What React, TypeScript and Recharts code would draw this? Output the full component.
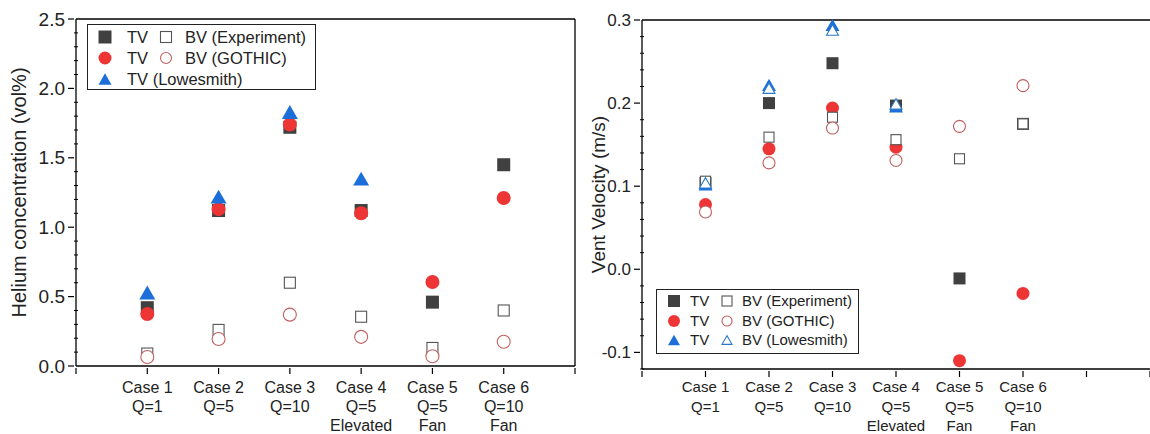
import React from 'react';
import { ScatterChart, Scatter, XAxis, YAxis, ReferenceLine, Legend } from 'recharts';

const cases = [1, 2, 3, 4, 5, 6];
const caseLabels = [
  ['Case 1', 'Q=1'],
  ['Case 2', 'Q=5'],
  ['Case 3', 'Q=10'],
  ['Case 4', 'Q=5', 'Elevated'],
  ['Case 5', 'Q=5', 'Fan'],
  ['Case 6', 'Q=10', 'Fan'],
];

const heliumTvExp = [0.42, 1.12, 1.72, 1.12, 0.46, 1.45];
const heliumBvExp = [0.09, 0.26, 0.6, 0.355, 0.13, 0.4];
const heliumTvGothic = [0.375, 1.13, 1.74, 1.1, 0.605, 1.21];
const heliumBvGothic = [0.065, 0.195, 0.37, 0.21, 0.07, 0.175];
const heliumTvLowesmith = [0.53, 1.22, 1.83, 1.35, null, null];

const velocityTvExp = [0.104, 0.2, 0.248, 0.197, -0.011, 0.175];
const velocityBvExp = [0.106, 0.159, 0.183, 0.156, 0.133, 0.175];
const velocityTvGothic = [0.078, 0.145, 0.194, 0.147, -0.11, -0.029];
const velocityBvGothic = [0.069, 0.128, 0.17, 0.131, 0.172, 0.221];
const velocityTvLowesmith = [0.102, 0.222, 0.294, 0.196, null, null];
const velocityBvLowesmith = [0.104, 0.218, 0.288, 0.199, null, null];

const heliumTicks = [0, 0.1, 0.2, 0.3, 0.4, 0.5, 0.6, 0.7, 0.8, 0.9, 1, 1.1, 1.2, 1.3, 1.4, 1.5, 1.6, 1.7, 1.8, 1.9, 2, 2.1, 2.2, 2.3, 2.4, 2.5];
const velocityTicks = [-0.12, -0.1, -0.08, -0.06, -0.04, -0.02, 0, 0.02, 0.04, 0.06, 0.08, 0.1, 0.12, 0.14, 0.16, 0.18, 0.2, 0.22, 0.24, 0.26, 0.28, 0.3];
const heliumXTicks = [0, 1, 2, 3, 4, 5, 6, 7];
const velocityXTicks = [0, 1, 2, 3, 4, 5, 6, 7, 8];

const FONT = 'Arial, "Liberation Sans", sans-serif';
const DARK = '#404040';
const RED = '#ee3535';
const BLUE = '#1c6fd8';
const OPEN_SQ = '#555555';
const OPEN_CI = '#c26060';
const OPEN_TRI = '#2b7ac9';

const toPoints = (values: (number | null)[]) =>
  cases
    .map((x, i) => ({ x, y: values[i] }))
    .filter((p) => p.y !== null);

type Kind = 'square' | 'circle' | 'triangle';

const marker = (kind: Kind, cx: number, cy: number, size: number, color: string, open: boolean) => {
  const fill = open ? '#fff' : color;
  const sw = open ? 1.1 : 0;
  if (kind === 'square') {
    return <rect x={cx - size / 2} y={cy - size / 2} width={size} height={size} fill={fill} stroke={color} strokeWidth={sw} />;
  }
  if (kind === 'circle') {
    return <circle cx={cx} cy={cy} r={size / 2} fill={fill} stroke={color} strokeWidth={sw} />;
  }
  const h = size * 0.87;
  const pts = `${cx},${cy - h / 2} ${cx - size / 2},${cy + h / 2} ${cx + size / 2},${cy + h / 2}`;
  return <polygon points={pts} fill={fill} stroke={color} strokeWidth={sw} />;
};

const shape = (kind: Kind, size: number, color: string, open: boolean) => (props: any) => {
  if (props.cx == null || props.cy == null) return <g />;
  return marker(kind, props.cx, props.cy, size, color, open);
};

const makeYTick = (majorStep: number, fontSize: number) => (props: any) => {
  const { x, y, payload } = props;
  const v = payload.value;
  const major = Math.abs(v / majorStep - Math.round(v / majorStep)) < 1e-6;
  if (!major) {
    return <line x1={x} x2={x + 4} y1={y} y2={y} stroke="#000" strokeWidth={1} />;
  }
  return (
    <g>
      <line x1={x} x2={x - 6} y1={y} y2={y} stroke="#000" strokeWidth={1.2} />
      <text x={x - 9} y={y} dy={fontSize * 0.35} textAnchor="end" fontSize={fontSize} fontFamily={FONT} fill="#222">
        {v.toFixed(1)}
      </text>
    </g>
  );
};

const makeXTick = (fontSize: number, firstLine: number, lineGap: number) => (props: any) => {
  const { x, y, payload } = props;
  const idx = cases.indexOf(payload.value);
  const lines = idx >= 0 ? caseLabels[idx] : [];
  return (
    <g>
      <line x1={x} x2={x} y1={y} y2={y + 6} stroke="#000" strokeWidth={1.2} />
      {lines.map((t, i) => (
        <text
          key={i}
          x={x}
          y={y + firstLine + i * lineGap}
          dy={fontSize * 0.35}
          textAnchor="middle"
          fontSize={fontSize}
          fontFamily={FONT}
          fill="#222"
        >
          {t}
        </text>
      ))}
    </g>
  );
};

const yLabel = (text: string, fontSize: number, cx: number) => (props: any) => {
  const { viewBox } = props;
  const cy = viewBox.y + viewBox.height / 2;
  return (
    <text
      x={cx}
      y={cy}
      transform={`rotate(-90, ${cx}, ${cy})`}
      textAnchor="middle"
      dominantBaseline="central"
      fontSize={fontSize}
      fontFamily={FONT}
      fill="#222"
    >
      {text}
    </text>
  );
};

interface LegendRow {
  items: { kind: Kind; color: string; open: boolean; label: string; mx: number; tx: number }[];
}

const makeLegend = (rows: LegendRow[], w: number, h: number, rowY: number[], fontSize: number, mSize: number) => () => (
  <svg width={w} height={h} style={{ display: 'block' }}>
    <rect x={0.5} y={0.5} width={w - 1} height={h - 1} fill="#fff" stroke="#222" strokeWidth={1} />
    {rows.map((row, r) =>
      row.items.map((it, i) => (
        <g key={`${r}-${i}`}>
          {marker(it.kind, it.mx, rowY[r], it.open ? mSize - 2 : mSize, it.color, it.open)}
          <text x={it.tx} y={rowY[r]} dy={fontSize * 0.35} fontSize={fontSize} fontFamily={FONT} fill="#222">
            {it.label}
          </text>
        </g>
      ))
    )}
  </svg>
);

const heliumLegend = makeLegend(
  [
    {
      items: [
        { kind: 'square', color: DARK, open: false, label: 'TV', mx: 18, tx: 40 },
        { kind: 'square', color: OPEN_SQ, open: true, label: 'BV (Experiment)', mx: 79, tx: 98 },
      ],
    },
    {
      items: [
        { kind: 'circle', color: RED, open: false, label: 'TV', mx: 18, tx: 40 },
        { kind: 'circle', color: OPEN_CI, open: true, label: 'BV (GOTHIC)', mx: 79, tx: 98 },
      ],
    },
    { items: [{ kind: 'triangle', color: BLUE, open: false, label: 'TV (Lowesmith)', mx: 18, tx: 40 }] },
  ],
  229,
  66,
  [13, 34, 55],
  16.5,
  13
);

const velocityLegend = makeLegend(
  [
    {
      items: [
        { kind: 'square', color: DARK, open: false, label: 'TV', mx: 18, tx: 34 },
        { kind: 'square', color: OPEN_SQ, open: true, label: 'BV (Experiment)', mx: 71, tx: 86 },
      ],
    },
    {
      items: [
        { kind: 'circle', color: RED, open: false, label: 'TV', mx: 18, tx: 34 },
        { kind: 'circle', color: OPEN_CI, open: true, label: 'BV (GOTHIC)', mx: 71, tx: 86 },
      ],
    },
    {
      items: [
        { kind: 'triangle', color: BLUE, open: false, label: 'TV', mx: 18, tx: 34 },
        { kind: 'triangle', color: OPEN_TRI, open: true, label: 'BV (Lowesmith)', mx: 71, tx: 86 },
      ],
    },
  ],
  203,
  65,
  [12, 32, 51],
  15,
  12
);

const HeliumChart = () => (
  <ScatterChart width={580} height={434} margin={{ top: 19, right: 5, bottom: 38, left: 0 }}>
    <XAxis
      type="number"
      dataKey="x"
      domain={[0, 7]}
      ticks={heliumXTicks}
      interval={0}
      height={30}
      tickLine={false}
      tickSize={0}
      tick={makeXTick(16, 19, 19)}
      axisLine={{ stroke: '#000', strokeWidth: 1.3 }}
    />
    <YAxis
      type="number"
      dataKey="y"
      domain={[0, 2.5]}
      ticks={heliumTicks}
      interval={0}
      width={76}
      tickLine={false}
      tickSize={0}
      tick={makeYTick(0.5, 19)}
      axisLine={{ stroke: '#000', strokeWidth: 1.3 }}
      label={yLabel('Helium concentration (vol%)', 20, 19)}
    />
    <ReferenceLine y={2.5} stroke="#000" strokeWidth={1.3} />
    <ReferenceLine x={7} stroke="#000" strokeWidth={1.3} />
    <Legend
      layout="horizontal"
      verticalAlign="middle"
      align="center"
      content={heliumLegend}
      wrapperStyle={{ left: 87, top: 24, width: 229, height: 66 }}
    />
    <Scatter data={toPoints(heliumTvExp)} shape={shape('square', 13, DARK, false)} isAnimationActive={false} />
    <Scatter data={toPoints(heliumTvGothic)} shape={shape('circle', 14, RED, false)} isAnimationActive={false} />
    <Scatter data={toPoints(heliumTvLowesmith)} shape={shape('triangle', 16, BLUE, false)} isAnimationActive={false} />
    <Scatter data={toPoints(heliumBvExp)} shape={shape('square', 11, OPEN_SQ, true)} isAnimationActive={false} />
    <Scatter data={toPoints(heliumBvGothic)} shape={shape('circle', 13, OPEN_CI, true)} isAnimationActive={false} />
  </ScatterChart>
);

const VelocityChart = () => (
  <ScatterChart width={570} height={434} margin={{ top: 20, right: 0, bottom: 35, left: 0 }}>
    <XAxis
      type="number"
      dataKey="x"
      domain={[0, 8]}
      ticks={velocityXTicks}
      interval={0}
      height={30}
      tickLine={false}
      tickSize={0}
      tick={makeXTick(15, 16, 19.5)}
      axisLine={{ stroke: '#000', strokeWidth: 1.3 }}
    />
    <YAxis
      type="number"
      dataKey="y"
      domain={[-0.12, 0.3]}
      ticks={velocityTicks}
      interval={0}
      width={62}
      tickLine={false}
      tickSize={0}
      tick={makeYTick(0.1, 17)}
      axisLine={{ stroke: '#000', strokeWidth: 1.3 }}
      label={yLabel('Vent Velocity (m/s)', 19, 18)}
    />
    <ReferenceLine y={0.3} stroke="#000" strokeWidth={1.3} />
    <Legend
      layout="horizontal"
      verticalAlign="middle"
      align="center"
      content={velocityLegend}
      wrapperStyle={{ left: 76, top: 289, width: 203, height: 65 }}
    />
    <Scatter data={toPoints(velocityTvExp)} shape={shape('square', 12, DARK, false)} isAnimationActive={false} />
    <Scatter data={toPoints(velocityTvGothic)} shape={shape('circle', 13, RED, false)} isAnimationActive={false} />
    <Scatter data={toPoints(velocityTvLowesmith)} shape={shape('triangle', 14, BLUE, false)} isAnimationActive={false} />
    <Scatter data={toPoints(velocityBvExp)} shape={shape('square', 10, OPEN_SQ, true)} isAnimationActive={false} />
    <Scatter data={toPoints(velocityBvGothic)} shape={shape('circle', 12, OPEN_CI, true)} isAnimationActive={false} />
    <Scatter data={toPoints(velocityBvLowesmith)} shape={shape('triangle', 12, OPEN_TRI, true)} isAnimationActive={false} />
  </ScatterChart>
);

export default function App() {
  return (
    <div style={{ position: 'absolute', left: 0, top: 0, width: 1150, height: 434, background: '#fff', overflow: 'hidden' }}>
      <div style={{ position: 'absolute', left: 0, top: 0 }}>
        <HeliumChart />
      </div>
      <div style={{ position: 'absolute', left: 580, top: 0 }}>
        <VelocityChart />
      </div>
    </div>
  );
}
